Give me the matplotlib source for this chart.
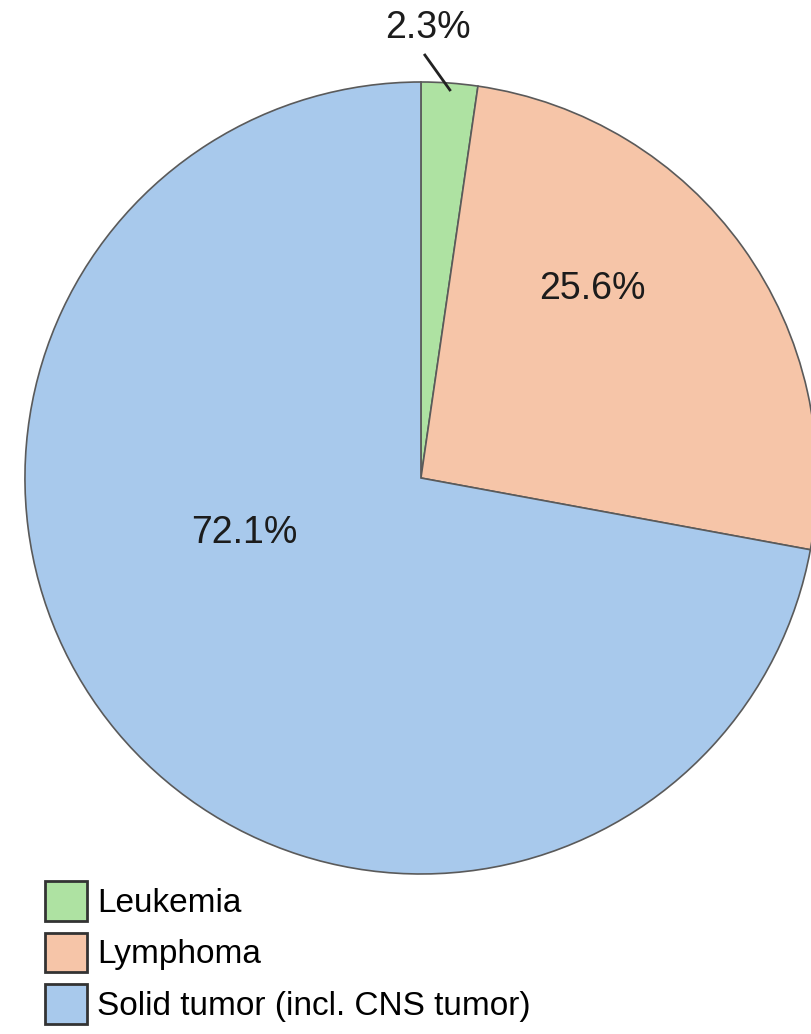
import numpy as np
import matplotlib
matplotlib.use("Agg")
import matplotlib.pyplot as plt

plt.rcParams['font.family'] = ['Liberation Sans', 'DejaVu Sans']

categories = ["Leukemia", "Lymphoma", "Solid tumor (incl. CNS tumor)"]
shares = [2.3, 25.6, 72.1]
colors = ["#aee2a2", "#f6c5a8", "#a8c9ec"]

fig = plt.figure(figsize=(8.11, 10.34), dpi=100)
ax = fig.add_axes([0, 0, 1, 1])

wedges, _ = ax.pie(shares, colors=colors, startangle=90, counterclock=False,
                   radius=1.0, center=(0, 0),
                   wedgeprops=dict(edgecolor="#5a5a5a", linewidth=1.2))

# percentage labels (placed where the original puts them)
ax.text(0.432, 0.477, "25.6%", fontsize=27, ha="center", va="center", color="#1c1c1c")
ax.text(-0.447, -0.139, "72.1%", fontsize=27, ha="center", va="center", color="#1c1c1c")
ax.text(0.018, 1.136, "2.3%", fontsize=27, ha="center", va="center", color="#1c1c1c")
ax.plot([0.010, 0.073], [1.068, 0.980], color="#222222", linewidth=2)

ax.set_xlim(-1.063, 0.985)
ax.set_ylim(-1.404, 1.207)
ax.set_aspect("equal")
ax.axis("off")

leg = fig.legend(wedges, categories, loc="upper left",
                 bbox_to_anchor=(45 / 811, 1 - 881 / 1034),
                 frameon=False, fontsize=24, borderpad=0, borderaxespad=0,
                 handlelength=1.26, handleheight=1.45, handletextpad=0.3,
                 labelspacing=0.36)
for h in leg.legend_handles:
    h.set_edgecolor("#333333")
    h.set_linewidth(2)

fig.savefig("out.png", dpi=100)
